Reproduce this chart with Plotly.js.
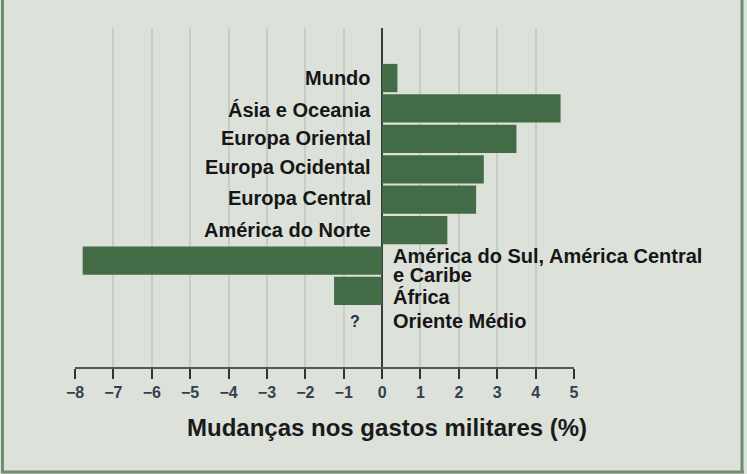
<!DOCTYPE html>
<html>
<head>
<meta charset="utf-8">
<script src="https://cdn.plot.ly/plotly-3.0.1.min.js"></script>
<style>
  html, body { margin: 0; padding: 0; background: #dce2da; }
  #chart { width: 747px; height: 474px; }
</style>
</head>
<body>
<div id="chart"></div>
<script>
// Data
const regions = [
  "Mundo",
  "Ásia e Oceania",
  "Europa Oriental",
  "Europa Ocidental",
  "Europa Central",
  "América do Norte",
  "América do Sul, América Central<br>e Caribe",
  "África",
  "Oriente Médio"
];
const changes = [0.4, 4.65, 3.5, 2.65, 2.45, 1.7, -7.8, -1.25, null];
const unknownMark = "?";
const xTickValues = [-8, -7, -6, -5, -4, -3, -2, -1, 0, 1, 2, 3, 4, 5];
const xAxisTitle = "Mudanças nos gastos militares (%)";

const font = "Liberation Sans, Arial, Helvetica, sans-serif";
const barColor = "#436b45";
const bg = "#dce2da";

// small vertical label offsets (px), matching the reference placement
const labelShift = [0, -2, 1, 2, 2, 0, -5, -6, 0];

const annotations = [];
regions.forEach((name, i) => {
  const v = changes[i];
  const right = v === null || v < 0; // label on the right of zero
  const lines = name.split("<br>");
  const n = lines.length;
  lines.forEach((ln, k) => {
    annotations.push({
      x: 0, y: name, xref: "x", yref: "y",
      text: ln, showarrow: false,
      xanchor: right ? "left" : "right",
      yanchor: "middle",
      xshift: right ? 9 : -9,
      yshift: labelShift[i] + ((n - 1) / 2 - k) * 19.5,
      font: { family: font, size: 20, color: "#161616", weight: "bold" }
    });
  });
  if (v === null) {
    annotations.push({
      x: 0, y: name, xref: "x", yref: "y",
      text: unknownMark, showarrow: false,
      xanchor: "right", yanchor: "middle", xshift: -20,
      font: { family: font, size: 16, color: "#1f2f45", weight: "bold" }
    });
  }
});

// axis title as annotation (offset to the right like the reference)
annotations.push({
  xref: "paper", yref: "paper", x: 0.626, y: -0.177,
  xanchor: "center", yanchor: "middle", showarrow: false,
  text: xAxisTitle,
  font: { family: font, size: 24, color: "#1a1a1a", weight: "bold" }
});

// frame (left, right, bottom) in paper coordinates
const L = 75, R = 574, T = 28, B = 367;
const px = p => (p - L) / (R - L);
const py = p => (B - p) / (B - T);
const frameColor = "#6f8d6f";
const shapes = [
  { type: "line", xref: "paper", yref: "paper", x0: px(2.5), x1: px(2.5), y0: py(0), y1: py(473), line: { color: frameColor, width: 3 } },
  { type: "line", xref: "paper", yref: "paper", x0: px(742), x1: px(742), y0: py(0), y1: py(473), line: { color: frameColor, width: 3 } },
  { type: "line", xref: "paper", yref: "paper", x0: px(1), x1: px(744), y0: py(472), y1: py(472), line: { color: frameColor, width: 3 } }
];

const trace = {
  type: "bar",
  orientation: "h",
  x: changes,
  y: regions,
  marker: { color: barColor, line: { width: 0 } },
  hoverinfo: "skip"
};

const layout = {
  width: 747, height: 474,
  margin: { l: L, r: 747 - R, t: T, b: 474 - B, pad: 0 },
  paper_bgcolor: bg,
  plot_bgcolor: bg,
  showlegend: false,
  bargap: 0.07,
  xaxis: {
    range: [-8, 5],
    tickvals: xTickValues,
    showgrid: true,
    gridcolor: "#c6cdc5",
    gridwidth: 2,
    zeroline: true,
    zerolinecolor: "#3a3a3a",
    zerolinewidth: 2,
    showline: true,
    linecolor: "#555555",
    linewidth: 2,
    ticks: "outside",
    ticklen: 10,
    tickwidth: 2,
    tickcolor: "#333333",
    tickfont: { family: font, size: 16, color: "#34404f", weight: "bold" },
    fixedrange: true
  },
  yaxis: {
    type: "category",
    range: [9.5, -1.645],
    showticklabels: false,
    showgrid: false,
    zeroline: false,
    showline: false,
    ticks: "",
    fixedrange: true
  },
  annotations: annotations,
  shapes: shapes
};

Plotly.newPlot("chart", [trace], layout, { displayModeBar: false, staticPlot: true });
</script>
</body>
</html>
